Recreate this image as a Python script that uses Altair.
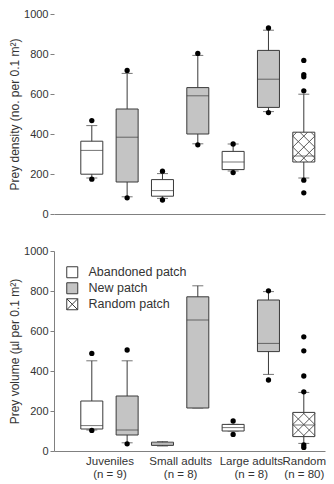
import altair as alt
import pandas as pd

# ---------------- data ----------------
positions = [1, 2, 3, 4, 5, 6, 7]
patches = ["Abandoned patch", "New patch", "Abandoned patch", "New patch",
           "Abandoned patch", "New patch", "Random patch"]
patch_domain = ["Abandoned patch", "New patch", "Random patch"]

group_names = ["Juveniles", "Small adults", "Large adults", "Random"]
group_n = [9, 8, 8, 80]
group_label_pos = [1.5, 3.5, 5.5, 7]

# Prey density (no. per 0.1 m2)
top_lo = [180, 86, 78, 351, 215, 512, 180]
top_q1 = [199, 160, 89, 400, 222, 533, 260]
top_med = [318, 384, 117, 591, 260, 674, 290]
top_q3 = [364, 525, 172, 632, 313, 818, 409]
top_hi = [442, 703, 202, 793, 350, 919, 599]
top_out = [[467, 174], [718, 81], [214, 70], [803, 346], [350, 207], [930, 507],
           [768, 697, 686, 616, 169, 106]]

# Prey volume (ul per 0.1 m2)
bot_lo = [105, 41, 25, 215, 100, 383, 38]
bot_q1 = [110, 80, 28, 215, 100, 497, 72]
bot_med = [127, 105, 35, 655, 117, 538, 130]
bot_q3 = [250, 275, 44, 771, 133, 755, 193]
bot_hi = [451, 451, 47, 826, 133, 797, 293]
bot_out = [[488, 103], [505, 36], [], [], [150, 83], [801, 355],
           [571, 501, 375, 296, 30, 18]]

# ---------------- style ----------------
LINE = "#3a3a3a"
GRAY = "#c4c4c4"
TEXT = "#333333"
AXC = "#808080"
HATCH = "#4a4a4a"
W = 271
BOX_W = 22


def hatch_path(a):
    segs = []
    for k in range(-8, 9):
        c = float(k)
        ylo, yhi = max(-a, -1 - c), min(a, 1 - c)
        if yhi - ylo > 1e-6:
            segs.append(f"M{ylo + c:.3f},{ylo:.3f}L{yhi + c:.3f},{yhi:.3f}")
        ylo, yhi = max(-a, c - 1), min(a, c + 1)
        if yhi - ylo > 1e-6:
            segs.append(f"M{c - ylo:.3f},{ylo:.3f}L{c - yhi:.3f},{yhi:.3f}")
    return "".join(segs)


LEGEND_HATCH = "M-1,-1L1,-1L1,1L-1,1Z M-1,-1L1,1 M1,-1L-1,1"

label_expr = ""
for p, nm, n in zip(group_label_pos, group_names, group_n):
    label_expr += f"datum.value == {p} ? ['{nm}', '(n = {n})'] : "
label_expr += "''"


def panel(lo, q1, med, q3, hi, outs, title, height, ydomain, bottom):
    df = pd.DataFrame(dict(pos=positions, patch=patches, lo=lo, q1=q1,
                           med=med, q3=q3, hi=hi))
    od = pd.DataFrame([(p, v) for p, vs in zip(positions, outs) for v in vs],
                      columns=["pos", "value"])

    if bottom:
        xaxis = alt.Axis(values=group_label_pos, labelExpr=label_expr, ticks=False,
                         domain=True, domainColor=AXC, labelFontSize=11.5,
                         labelPadding=4, labelLineHeight=13, title=None, grid=False,
                         labelColor=TEXT, labelFlush=False, labelOverlap=False)
    else:
        xaxis = alt.Axis(labels=False, ticks=False, domain=True, domainColor=AXC,
                         title=None, grid=False)
    xs = alt.Scale(domain=[-0.07, 7.6], nice=False, zero=False, padding=0)
    X = alt.X("pos:Q", scale=xs, axis=xaxis)

    ys = alt.Scale(domain=[0, 1000], nice=False, padding=0)
    yaxis = alt.Axis(values=[0, 200, 400, 600, 800, 1000], format="d", title=title,
                     domain=ydomain, domainColor=AXC, tickSize=4, tickColor=AXC,
                     labelPadding=2, labelFontSize=11, labelColor=TEXT,
                     titleFontSize=12, titleFontWeight="normal", titleColor=TEXT,
                     titlePadding=2, grid=False)

    def Y(f):
        return alt.Y(f, scale=ys, axis=yaxis, title=title)

    fill_scale = alt.Scale(domain=patch_domain, range=["white", GRAY, "white"])
    if bottom:
        legend = alt.Legend(orient="none", legendX=12, legendY=15, title=None,
                            symbolSize=121, symbolStrokeColor=LINE,
                            symbolStrokeWidth=1, labelFontSize=12.5,
                            labelColor=TEXT, labelOffset=10, rowPadding=0,
                            padding=0)
    else:
        legend = None

    base = alt.Chart(df)
    whisk = base.mark_rule(color=LINE, strokeWidth=1).encode(x=X, y=Y("lo:Q"), y2="hi:Q")
    cap_lo = base.mark_tick(orient="horizontal", size=11, thickness=1, color=LINE).encode(x=X, y=Y("lo:Q"))
    cap_hi = base.mark_tick(orient="horizontal", size=11, thickness=1, color=LINE).encode(x=X, y=Y("hi:Q"))

    box = base.mark_bar(size=BOX_W, stroke=LINE, strokeWidth=1, orient="vertical").encode(
        x=X, y=Y("q1:Q"), y2="q3:Q",
        fill=alt.Fill("patch:N", scale=fill_scale, legend=legend))
    median = base.mark_tick(orient="horizontal", size=BOX_W, thickness=1, color=LINE).encode(x=X, y=Y("med:Q"))

    ri = patches.index("Random patch")
    half_h = (q3[ri] - q1[ri]) / 1000 * height / 2
    path = hatch_path(half_h / (BOX_W / 2))
    hatch = alt.Chart(df[df.patch == "Random patch"]).transform_calculate(
        mid="(datum.q1 + datum.q3) / 2").mark_point(
        shape=path, size=BOX_W * BOX_W, filled=False, color=HATCH,
        strokeWidth=0.9, opacity=1).encode(x=X, y=Y("mid:Q"))

    dots = alt.Chart(od).mark_circle(size=28, color="black", opacity=1).encode(x=X, y=Y("value:Q"))

    layers = [whisk, cap_lo, cap_hi, box, median, hatch, dots]
    if bottom:
        # empty layer that only supplies the legend's symbol shapes
        key = base.transform_filter("false").mark_point(
            filled=True, stroke=LINE, strokeWidth=1, opacity=1).encode(
            x=X, y=Y("q1:Q"),
            fill=alt.Fill("patch:N", scale=fill_scale, legend=legend),
            shape=alt.Shape("patch:N", scale=alt.Scale(
                domain=patch_domain, range=["square", "square", LEGEND_HATCH]),
                legend=legend))
        layers.append(key)
    return alt.layer(*layers).properties(width=W, height=height)


top = panel(top_lo, top_q1, top_med, top_q3, top_hi, top_out,
            "Prey density (no. per 0.1 m²)", 200, False, False)
bottom = panel(bot_lo, bot_q1, bot_med, bot_q3, bot_hi, bot_out,
               "Prey volume (µl per 0.1 m²)", 200, True, True)

chart = alt.vconcat(top, bottom, spacing=26).resolve_scale(
    fill="independent", shape="independent").resolve_legend(
    fill="independent", shape="independent").properties(
    padding={"left": 0, "top": 0, "right": 0, "bottom": 0}).configure(
    font="Liberation Sans").configure_view(stroke=None)

chart.save("out.html", embed_options={"renderer": "svg", "actions": False})
